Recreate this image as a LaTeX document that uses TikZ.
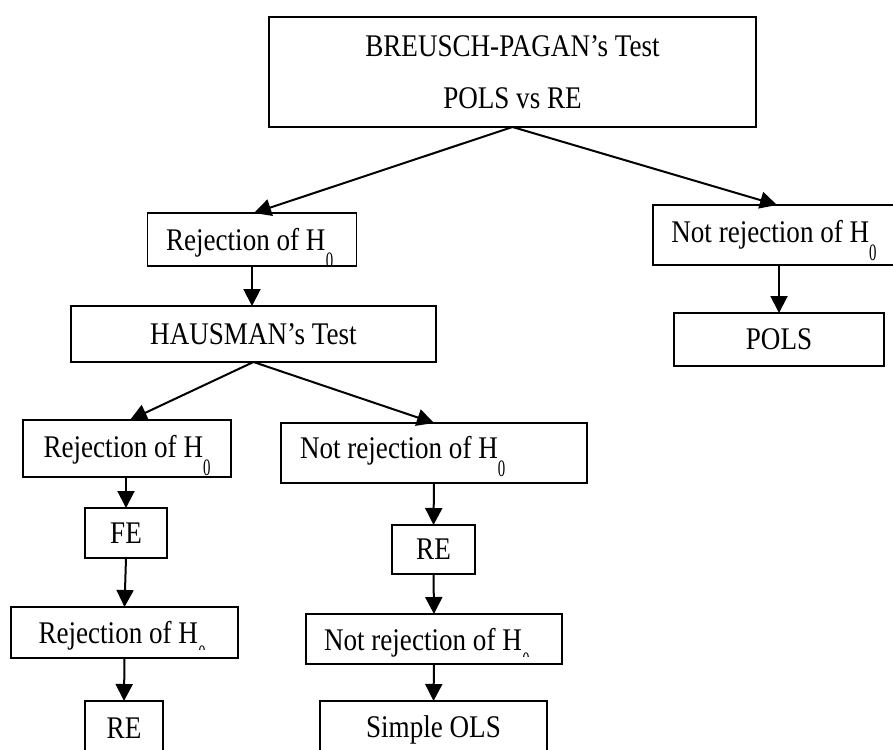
\documentclass[tikz,border=0pt]{standalone}
\usepackage{fontspec}
\setmainfont{Liberation Serif}[FakeStretch=0.86]
\newfontfamily\subfont{Liberation Serif}[FakeStretch=0.63]
\usetikzlibrary{arrows.meta,calc}
\newcommand{\hsub}{\smash{\raisebox{-18pt}{\subfont\fontsize{23.5}{24}\selectfont 0}}}
\newcommand{\hsubc}[1]{\smash{\tikz[baseline=0pt,x=1pt,y=1pt]{\clip (-0.5,-1) rectangle (12,{-2.1-#1});
  \node[draw=none,fill=none,minimum width=0pt,minimum height=0pt,inner sep=0pt,outer sep=0pt,anchor=base west,font=\subfont\fontsize{23.5}{24}\selectfont] (z) at (0,-18) {0};}}}
\begin{document}
\begin{tikzpicture}[x=1pt,y=-1pt,
  box/.style={draw,line width=1.5pt,inner sep=0pt,outer sep=0pt,font=\fontsize{31.5}{36}\selectfont,anchor=center},
  conn/.style={line width=2pt,-{Triangle[length=17pt,width=17pt]}}]
\useasboundingbox (0,0) rectangle (893,749);
\node[box,minimum width=487pt,minimum height=110pt,align=center,font=\fontsize{31.5}{52}\selectfont] (top) at (512.5,72) {BREUSCH-PAGAN’s Test\\POLS vs RE};
\node[box,minimum width=209pt,minimum height=53pt,text depth=0pt] (rej1) at (252,239.5) {Rejection of H\hsubc{12}};
\node[box,minimum width=242pt,minimum height=60pt] (notrej1) at (774,235) {Not rejection of H\hsub};
\node[box,minimum width=365pt,minimum height=56pt] (haus) at (253.5,334) {HAUSMAN’s Test};
\node[box,minimum width=210pt,minimum height=53pt] (pols) at (779,339.5) {POLS};
\node[box,minimum width=208pt,minimum height=57pt,text depth=4pt] (rej2) at (127,448.5) {Rejection of H\hsub};
\node[box,minimum width=306pt,minimum height=60pt,text width=268pt,align=flush left,text depth=11pt] (notrej2) at (434,453) {Not rejection of H\hsub};
\node[box,minimum width=82pt,minimum height=50pt] (fe) at (126,533) {FE};
\node[box,minimum width=227pt,minimum height=51pt,text depth=0pt] (rej3) at (124.5,632.5) {Rejection of H\hsubc{3.5}};
\node[box,minimum width=78pt,minimum height=54pt] (re1) at (124,728) {RE};
\node[box,minimum width=83pt,minimum height=49pt] (re2) at (433.5,549.5) {RE};
\node[box,minimum width=256pt,minimum height=50pt,text width=220pt,align=flush left,text depth=0pt] (notrej3) at (434,639) {Not rejection of H\hsubc{4}};
\node[box,minimum width=227pt,minimum height=54pt,text depth=3pt] (ols) at (433.5,728) {Simple OLS};
\draw[conn] (top.south) -- ([xshift=2pt]rej1.north);
\draw[conn] (top.south) -- ([xshift=3pt]notrej1.north);
\draw[conn] (rej1.south) -- (rej1.south |- haus.north);
\draw[conn] (pols.north |- notrej1.south) -- (pols.north);
\draw[conn] (haus.south) -- ([xshift=3pt]rej2.north);
\draw[conn] (haus.south) -- (notrej2.north);
\draw[conn] (rej2.south -| fe.north) -- (fe.north);
\draw[conn] (fe.south) -- (rej3.north);
\draw[conn] (rej3.south) -- (re1.north);
\draw[conn] (notrej2.south) -- (re2.north);
\draw[conn] (re2.south) -- (notrej3.north);
\draw[conn] (notrej3.south) -- (ols.north);
\end{tikzpicture}
\end{document}
